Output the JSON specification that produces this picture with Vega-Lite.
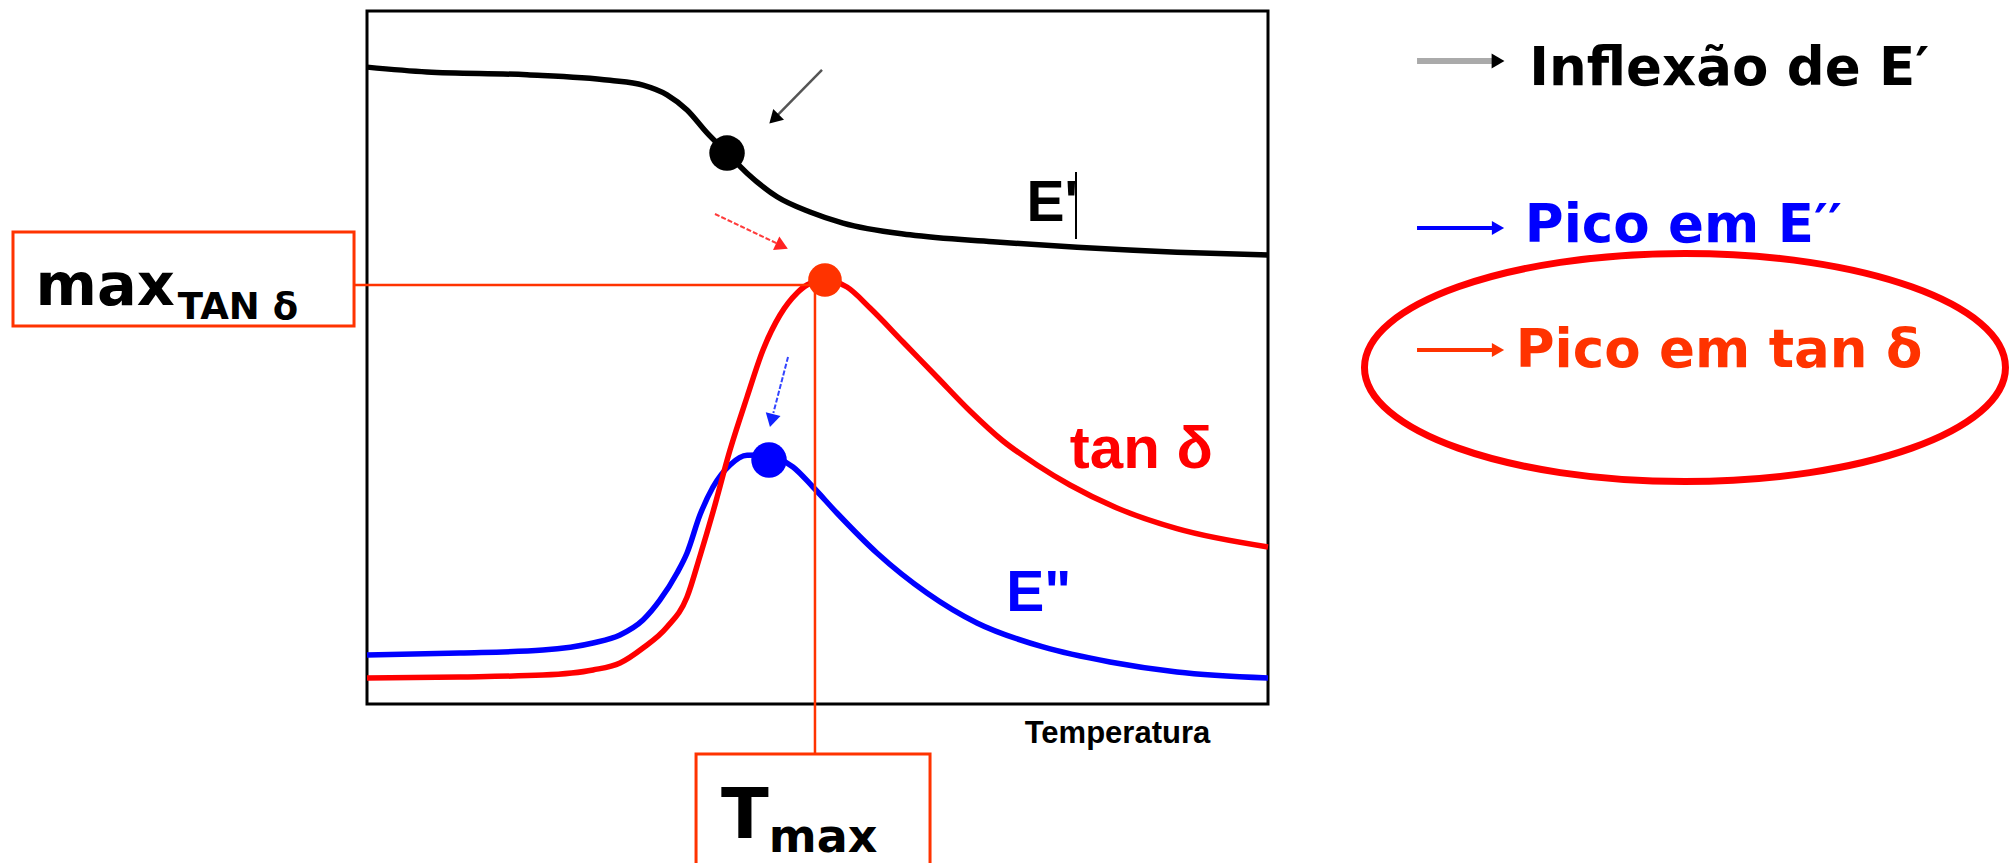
{
  "$schema": "https://vega.github.io/schema/vega-lite/v6.json",
  "width": 901,
  "height": 693,
  "autosize": {"type": "none"},
  "padding": {"left": 367, "top": 11, "right": 742, "bottom": 159},
  "background": "white",
  "config": {"view": {"stroke": "#000000", "strokeWidth": 3}},
  "datasets": {
    "curvas": [
      {"serie": "E'", "temperatura": 0, "valor": 91.9},
      {"serie": "E'", "temperatura": 6.66, "valor": 91.2},
      {"serie": "E'", "temperatura": 17.76, "valor": 90.8},
      {"serie": "E'", "temperatura": 26.97, "valor": 90.0},
      {"serie": "E'", "temperatura": 30.63, "valor": 89.3},
      {"serie": "E'", "temperatura": 33.3, "valor": 87.9},
      {"serie": "E'", "temperatura": 35.52, "valor": 85.7},
      {"serie": "E'", "temperatura": 37.74, "valor": 82.4},
      {"serie": "E'", "temperatura": 39.96, "valor": 79.5},
      {"serie": "E'", "temperatura": 42.18, "valor": 76.6},
      {"serie": "E'", "temperatura": 45.51, "valor": 73.2},
      {"serie": "E'", "temperatura": 49.17, "valor": 71.0},
      {"serie": "E'", "temperatura": 52.83, "valor": 69.4},
      {"serie": "E'", "temperatura": 60.27, "valor": 67.7},
      {"serie": "E'", "temperatura": 69.48, "valor": 66.7},
      {"serie": "E'", "temperatura": 78.8, "valor": 65.9},
      {"serie": "E'", "temperatura": 89.9, "valor": 65.2},
      {"serie": "E'", "temperatura": 100, "valor": 64.8},
      {"serie": "tan", "temperatura": 0, "valor": 3.75},
      {"serie": "tan", "temperatura": 10.32, "valor": 3.9},
      {"serie": "tan", "temperatura": 19.53, "valor": 4.18},
      {"serie": "tan", "temperatura": 25.08, "valor": 4.91},
      {"serie": "tan", "temperatura": 28.08, "valor": 5.92},
      {"serie": "tan", "temperatura": 30.63, "valor": 8.08},
      {"serie": "tan", "temperatura": 33.3, "valor": 11.11},
      {"serie": "tan", "temperatura": 35.52, "valor": 15.44},
      {"serie": "tan", "temperatura": 36.96, "valor": 21.36},
      {"serie": "tan", "temperatura": 38.4, "valor": 27.71},
      {"serie": "tan", "temperatura": 40.29, "valor": 36.65},
      {"serie": "tan", "temperatura": 42.18, "valor": 44.3},
      {"serie": "tan", "temperatura": 43.95, "valor": 51.08},
      {"serie": "tan", "temperatura": 45.84, "valor": 56.13},
      {"serie": "tan", "temperatura": 47.73, "valor": 59.31},
      {"serie": "tan", "temperatura": 48.83, "valor": 60.46},
      {"serie": "tan", "temperatura": 50.83, "valor": 61.18},
      {"serie": "tan", "temperatura": 53.27, "valor": 60.17},
      {"serie": "tan", "temperatura": 55.83, "valor": 57.14},
      {"serie": "tan", "temperatura": 59.49, "valor": 52.24},
      {"serie": "tan", "temperatura": 63.26, "valor": 47.19},
      {"serie": "tan", "temperatura": 66.93, "valor": 42.28},
      {"serie": "tan", "temperatura": 70.59, "valor": 37.95},
      {"serie": "tan", "temperatura": 74.36, "valor": 34.49},
      {"serie": "tan", "temperatura": 78.02, "valor": 31.6},
      {"serie": "tan", "temperatura": 83.24, "valor": 28.28},
      {"serie": "tan", "temperatura": 89.9, "valor": 25.3},
      {"serie": "tan", "temperatura": 100, "valor": 22.66},
      {"serie": "E''", "temperatura": 0, "valor": 7.07},
      {"serie": "E''", "temperatura": 10.32, "valor": 7.36},
      {"serie": "E''", "temperatura": 19.53, "valor": 7.79},
      {"serie": "E''", "temperatura": 25.08, "valor": 8.8},
      {"serie": "E''", "temperatura": 28.08, "valor": 9.96},
      {"serie": "E''", "temperatura": 30.63, "valor": 12.12},
      {"serie": "E''", "temperatura": 32.52, "valor": 15.01},
      {"serie": "E''", "temperatura": 34.41, "valor": 18.9},
      {"serie": "E''", "temperatura": 35.52, "valor": 21.79},
      {"serie": "E''", "temperatura": 36.96, "valor": 27.3},
      {"serie": "E''", "temperatura": 38.4, "valor": 31.31},
      {"serie": "E''", "temperatura": 40.29, "valor": 34.5},
      {"serie": "E''", "temperatura": 42.18, "valor": 35.9},
      {"serie": "E''", "temperatura": 43.84, "valor": 35.93},
      {"serie": "E''", "temperatura": 47.28, "valor": 34.2},
      {"serie": "E''", "temperatura": 49.5, "valor": 31.31},
      {"serie": "E''", "temperatura": 52.16, "valor": 27.56},
      {"serie": "E''", "temperatura": 56.6, "valor": 21.79},
      {"serie": "E''", "temperatura": 62.15, "valor": 16.02},
      {"serie": "E''", "temperatura": 67.7, "valor": 11.69},
      {"serie": "E''", "temperatura": 75.03, "valor": 8.23},
      {"serie": "E''", "temperatura": 82.46, "valor": 6.06},
      {"serie": "E''", "temperatura": 89.9, "valor": 4.62},
      {"serie": "E''", "temperatura": 100, "valor": 3.75}
    ],
    "pontos": [
      {"id": "inflexao", "x": 39.96, "y": 79.5},
      {"id": "picoTan", "x": 50.83, "y": 61.18},
      {"id": "picoE2", "x": 44.62, "y": 35.21}
    ],
    "linhas": [
      {"id": "hMax", "x": -1.44, "y": 60.46, "x2": 49.72, "y2": 60.46},
      {"id": "vTmax", "x": 49.72, "y": 61.18, "x2": 49.72, "y2": -7.22},
      {"id": "cursor", "x": 78.69, "y": 76.77, "x2": 78.69, "y2": 67.1},
      {"id": "setaPreta", "x": 50.5, "y": 91.49, "x2": 45.6, "y2": 85.0},
      {"id": "setaVermelha", "x": 38.62, "y": 70.71, "x2": 45.6, "y2": 66.4},
      {"id": "setaAzul", "x": 46.73, "y": 50.07, "x2": 45.1, "y2": 42.0},
      {"id": "legPreta", "x": 116.54, "y": 92.78, "x2": 124.86, "y2": 92.78},
      {"id": "legAzul", "x": 116.54, "y": 68.69, "x2": 124.86, "y2": 68.69},
      {"id": "legVermelha", "x": 116.54, "y": 51.08, "x2": 124.86, "y2": 51.08}
    ],
    "pontas": [
      {"id": "setaPreta", "x": 45.17, "y": 84.42},
      {"id": "setaVermelha", "x": 46.06, "y": 66.09},
      {"id": "setaAzul", "x": 44.9, "y": 40.9},
      {"id": "legPreta", "x": 125.53, "y": 92.78},
      {"id": "legAzul", "x": 125.53, "y": 68.69},
      {"id": "legVermelha", "x": 125.53, "y": 51.08}
    ],
    "caixas": [
      {"id": "caixaMax", "x": -39.29, "y": 68.11, "x2": -1.44, "y2": 54.55},
      {"id": "caixaTmax", "x": 36.52, "y": -7.22, "x2": 62.49, "y2": -25.0}
    ],
    "elipse": [
      {"id": "destaque", "x": 146.28, "y": 48.56}
    ],
    "textos": [
      {"id": "max", "texto": "max", "x": -36.8, "y": 57.58},
      {"id": "subTan", "texto": "TAN δ", "x": -21.0, "y": 55.56},
      {"id": "T", "texto": "T", "x": 39.3, "y": -19.34},
      {"id": "subMax", "texto": "max", "x": 44.6, "y": -21.36},
      {"id": "rotE1", "texto": "E'", "x": 73.2, "y": 69.7},
      {"id": "rotTan", "texto": "tan δ", "x": 78.0, "y": 34.05},
      {"id": "rotE2", "texto": "E\"", "x": 70.95, "y": 13.42},
      {"id": "eixo", "texto": "Temperatura", "x": 73.0, "y": -5.63},
      {"id": "leg1", "texto": "Inflexão de E′", "x": 129.0, "y": 89.32},
      {"id": "leg2", "texto": "Pico em E′′", "x": 128.5, "y": 66.67},
      {"id": "leg3", "texto": "Pico em tan δ", "x": 127.5, "y": 48.63}
    ]
  },
  "layer": [
    {
      "data": {"name": "caixas"},
      "mark": {"type": "rect", "fill": null, "fillOpacity": 0, "stroke": "#FF3300", "strokeWidth": 3, "clip": false},
      "encoding": {
        "x": {"field": "x", "type": "quantitative", "scale": {"domain": [0, 100]}, "axis": null},
        "x2": {"field": "x2"},
        "y": {"field": "y", "type": "quantitative", "scale": {"domain": [0, 100]}, "axis": null},
        "y2": {"field": "y2"}
      }
    },
    {
      "data": {"name": "curvas"},
      "transform": [{"filter": "datum.serie === \"E'\""}],
      "mark": {"type": "line", "color": "#000000", "strokeWidth": 5.5, "interpolate": "monotone", "clip": false},
      "encoding": {
        "x": {"field": "temperatura", "type": "quantitative", "scale": {"domain": [0, 100]}, "axis": null},
        "y": {"field": "valor", "type": "quantitative", "scale": {"domain": [0, 100]}, "axis": null}
      }
    },
    {
      "data": {"name": "curvas"},
      "transform": [{"filter": "datum.serie === \"E''\""}],
      "mark": {"type": "line", "color": "#0000FF", "strokeWidth": 5.5, "interpolate": "monotone", "clip": false},
      "encoding": {
        "x": {"field": "temperatura", "type": "quantitative", "scale": {"domain": [0, 100]}, "axis": null},
        "y": {"field": "valor", "type": "quantitative", "scale": {"domain": [0, 100]}, "axis": null}
      }
    },
    {
      "data": {"name": "curvas"},
      "transform": [{"filter": "datum.serie === 'tan'"}],
      "mark": {"type": "line", "color": "#FF0000", "strokeWidth": 5.5, "interpolate": "monotone", "clip": false},
      "encoding": {
        "x": {"field": "temperatura", "type": "quantitative", "scale": {"domain": [0, 100]}, "axis": null},
        "y": {"field": "valor", "type": "quantitative", "scale": {"domain": [0, 100]}, "axis": null}
      }
    },
    {
      "data": {"name": "linhas"},
      "transform": [{"filter": "datum.id === 'hMax' || datum.id === 'vTmax'"}],
      "mark": {"type": "rule", "color": "#FF3300", "strokeWidth": 2.5, "clip": false},
      "encoding": {
        "x": {"field": "x", "type": "quantitative", "scale": {"domain": [0, 100]}, "axis": null},
        "x2": {"field": "x2"},
        "y": {"field": "y", "type": "quantitative", "scale": {"domain": [0, 100]}, "axis": null},
        "y2": {"field": "y2"}
      }
    },
    {
      "data": {"name": "linhas"},
      "transform": [{"filter": "datum.id === 'cursor'"}],
      "mark": {"type": "rule", "color": "#000000", "strokeWidth": 2, "clip": false},
      "encoding": {
        "x": {"field": "x", "type": "quantitative", "scale": {"domain": [0, 100]}, "axis": null},
        "x2": {"field": "x2"},
        "y": {"field": "y", "type": "quantitative", "scale": {"domain": [0, 100]}, "axis": null},
        "y2": {"field": "y2"}
      }
    },
    {
      "data": {"name": "linhas"},
      "transform": [{"filter": "datum.id === 'setaPreta'"}],
      "mark": {"type": "rule", "color": "#555555", "strokeWidth": 2.5, "clip": false},
      "encoding": {
        "x": {"field": "x", "type": "quantitative", "scale": {"domain": [0, 100]}, "axis": null},
        "x2": {"field": "x2"},
        "y": {"field": "y", "type": "quantitative", "scale": {"domain": [0, 100]}, "axis": null},
        "y2": {"field": "y2"}
      }
    },
    {
      "data": {"name": "linhas"},
      "transform": [{"filter": "datum.id === 'setaVermelha'"}],
      "mark": {"type": "rule", "color": "#FF3B3B", "strokeWidth": 2, "strokeDash": [5, 2], "clip": false},
      "encoding": {
        "x": {"field": "x", "type": "quantitative", "scale": {"domain": [0, 100]}, "axis": null},
        "x2": {"field": "x2"},
        "y": {"field": "y", "type": "quantitative", "scale": {"domain": [0, 100]}, "axis": null},
        "y2": {"field": "y2"}
      }
    },
    {
      "data": {"name": "linhas"},
      "transform": [{"filter": "datum.id === 'setaAzul'"}],
      "mark": {"type": "rule", "color": "#3344FF", "strokeWidth": 2, "strokeDash": [5, 2], "clip": false},
      "encoding": {
        "x": {"field": "x", "type": "quantitative", "scale": {"domain": [0, 100]}, "axis": null},
        "x2": {"field": "x2"},
        "y": {"field": "y", "type": "quantitative", "scale": {"domain": [0, 100]}, "axis": null},
        "y2": {"field": "y2"}
      }
    },
    {
      "data": {"name": "linhas"},
      "transform": [{"filter": "datum.id === 'legPreta'"}],
      "mark": {"type": "rule", "color": "#AAAAAA", "strokeWidth": 6, "clip": false},
      "encoding": {
        "x": {"field": "x", "type": "quantitative", "scale": {"domain": [0, 100]}, "axis": null},
        "x2": {"field": "x2"},
        "y": {"field": "y", "type": "quantitative", "scale": {"domain": [0, 100]}, "axis": null},
        "y2": {"field": "y2"}
      }
    },
    {
      "data": {"name": "linhas"},
      "transform": [{"filter": "datum.id === 'legAzul'"}],
      "mark": {"type": "rule", "color": "#0000FF", "strokeWidth": 4, "clip": false},
      "encoding": {
        "x": {"field": "x", "type": "quantitative", "scale": {"domain": [0, 100]}, "axis": null},
        "x2": {"field": "x2"},
        "y": {"field": "y", "type": "quantitative", "scale": {"domain": [0, 100]}, "axis": null},
        "y2": {"field": "y2"}
      }
    },
    {
      "data": {"name": "linhas"},
      "transform": [{"filter": "datum.id === 'legVermelha'"}],
      "mark": {"type": "rule", "color": "#FF3300", "strokeWidth": 4, "clip": false},
      "encoding": {
        "x": {"field": "x", "type": "quantitative", "scale": {"domain": [0, 100]}, "axis": null},
        "x2": {"field": "x2"},
        "y": {"field": "y", "type": "quantitative", "scale": {"domain": [0, 100]}, "axis": null},
        "y2": {"field": "y2"}
      }
    },
    {
      "data": {"name": "pontas"},
      "transform": [{"filter": "datum.id === 'setaPreta'"}],
      "mark": {"type": "point", "shape": "triangle-up", "angle": 225, "size": 230, "filled": true, "color": "#000000", "opacity": 1, "clip": false},
      "encoding": {
        "x": {"field": "x", "type": "quantitative", "scale": {"domain": [0, 100]}, "axis": null},
        "y": {"field": "y", "type": "quantitative", "scale": {"domain": [0, 100]}, "axis": null}
      }
    },
    {
      "data": {"name": "pontas"},
      "transform": [{"filter": "datum.id === 'setaVermelha'"}],
      "mark": {"type": "point", "shape": "triangle-up", "angle": 115, "size": 220, "filled": true, "color": "#FF2222", "opacity": 1, "clip": false},
      "encoding": {
        "x": {"field": "x", "type": "quantitative", "scale": {"domain": [0, 100]}, "axis": null},
        "y": {"field": "y", "type": "quantitative", "scale": {"domain": [0, 100]}, "axis": null}
      }
    },
    {
      "data": {"name": "pontas"},
      "transform": [{"filter": "datum.id === 'setaAzul'"}],
      "mark": {"type": "point", "shape": "triangle-up", "angle": 194, "size": 230, "filled": true, "color": "#1122FF", "opacity": 1, "clip": false},
      "encoding": {
        "x": {"field": "x", "type": "quantitative", "scale": {"domain": [0, 100]}, "axis": null},
        "y": {"field": "y", "type": "quantitative", "scale": {"domain": [0, 100]}, "axis": null}
      }
    },
    {
      "data": {"name": "pontas"},
      "transform": [{"filter": "datum.id === 'legPreta'"}],
      "mark": {"type": "point", "shape": "triangle-right", "size": 220, "filled": true, "color": "#000000", "opacity": 1, "clip": false},
      "encoding": {
        "x": {"field": "x", "type": "quantitative", "scale": {"domain": [0, 100]}, "axis": null},
        "y": {"field": "y", "type": "quantitative", "scale": {"domain": [0, 100]}, "axis": null}
      }
    },
    {
      "data": {"name": "pontas"},
      "transform": [{"filter": "datum.id === 'legAzul'"}],
      "mark": {"type": "point", "shape": "triangle-right", "size": 200, "filled": true, "color": "#0000FF", "opacity": 1, "clip": false},
      "encoding": {
        "x": {"field": "x", "type": "quantitative", "scale": {"domain": [0, 100]}, "axis": null},
        "y": {"field": "y", "type": "quantitative", "scale": {"domain": [0, 100]}, "axis": null}
      }
    },
    {
      "data": {"name": "pontas"},
      "transform": [{"filter": "datum.id === 'legVermelha'"}],
      "mark": {"type": "point", "shape": "triangle-right", "size": 200, "filled": true, "color": "#FF3300", "opacity": 1, "clip": false},
      "encoding": {
        "x": {"field": "x", "type": "quantitative", "scale": {"domain": [0, 100]}, "axis": null},
        "y": {"field": "y", "type": "quantitative", "scale": {"domain": [0, 100]}, "axis": null}
      }
    },
    {
      "data": {"name": "pontos"},
      "transform": [{"filter": "datum.id === 'inflexao'"}],
      "mark": {"type": "point", "shape": "circle", "size": 1260, "filled": true, "color": "#000000", "opacity": 1, "clip": false},
      "encoding": {
        "x": {"field": "x", "type": "quantitative", "scale": {"domain": [0, 100]}, "axis": null},
        "y": {"field": "y", "type": "quantitative", "scale": {"domain": [0, 100]}, "axis": null}
      }
    },
    {
      "data": {"name": "pontos"},
      "transform": [{"filter": "datum.id === 'picoTan'"}],
      "mark": {"type": "point", "shape": "circle", "size": 1130, "filled": true, "color": "#FF3300", "opacity": 1, "clip": false},
      "encoding": {
        "x": {"field": "x", "type": "quantitative", "scale": {"domain": [0, 100]}, "axis": null},
        "y": {"field": "y", "type": "quantitative", "scale": {"domain": [0, 100]}, "axis": null}
      }
    },
    {
      "data": {"name": "pontos"},
      "transform": [{"filter": "datum.id === 'picoE2'"}],
      "mark": {"type": "point", "shape": "circle", "size": 1260, "filled": true, "color": "#0000FF", "opacity": 1, "clip": false},
      "encoding": {
        "x": {"field": "x", "type": "quantitative", "scale": {"domain": [0, 100]}, "axis": null},
        "y": {"field": "y", "type": "quantitative", "scale": {"domain": [0, 100]}, "axis": null}
      }
    },
    {
      "data": {"name": "elipse"},
      "mark": {"type": "point", "shape": "M -1 0 C -1 -0.1966 -0.5523 -0.356 0 -0.356 C 0.5523 -0.356 1 -0.1966 1 0 C 1 0.1966 0.5523 0.356 0 0.356 C -0.5523 0.356 -1 0.1966 -1 0 Z", "size": 410881, "filled": false, "stroke": "#FF0000", "strokeWidth": 7, "opacity": 1, "clip": false},
      "encoding": {
        "x": {"field": "x", "type": "quantitative", "scale": {"domain": [0, 100]}, "axis": null},
        "y": {"field": "y", "type": "quantitative", "scale": {"domain": [0, 100]}, "axis": null}
      }
    },
    {
      "data": {"name": "textos"},
      "transform": [{"filter": "datum.id === 'max'"}],
      "mark": {"type": "text", "align": "left", "baseline": "alphabetic", "font": "DejaVu Sans", "fontWeight": "bold", "fontSize": 59, "color": "#000000", "clip": false},
      "encoding": {
        "x": {"field": "x", "type": "quantitative", "scale": {"domain": [0, 100]}, "axis": null},
        "y": {"field": "y", "type": "quantitative", "scale": {"domain": [0, 100]}, "axis": null},
        "text": {"field": "texto"}
      }
    },
    {
      "data": {"name": "textos"},
      "transform": [{"filter": "datum.id === 'subTan'"}],
      "mark": {"type": "text", "align": "left", "baseline": "alphabetic", "font": "DejaVu Sans", "fontWeight": "bold", "fontSize": 37, "color": "#000000", "clip": false},
      "encoding": {
        "x": {"field": "x", "type": "quantitative", "scale": {"domain": [0, 100]}, "axis": null},
        "y": {"field": "y", "type": "quantitative", "scale": {"domain": [0, 100]}, "axis": null},
        "text": {"field": "texto"}
      }
    },
    {
      "data": {"name": "textos"},
      "transform": [{"filter": "datum.id === 'T'"}],
      "mark": {"type": "text", "align": "left", "baseline": "alphabetic", "font": "DejaVu Sans", "fontWeight": "bold", "fontSize": 70, "color": "#000000", "clip": false},
      "encoding": {
        "x": {"field": "x", "type": "quantitative", "scale": {"domain": [0, 100]}, "axis": null},
        "y": {"field": "y", "type": "quantitative", "scale": {"domain": [0, 100]}, "axis": null},
        "text": {"field": "texto"}
      }
    },
    {
      "data": {"name": "textos"},
      "transform": [{"filter": "datum.id === 'subMax'"}],
      "mark": {"type": "text", "align": "left", "baseline": "alphabetic", "font": "DejaVu Sans", "fontWeight": "bold", "fontSize": 46, "color": "#000000", "clip": false},
      "encoding": {
        "x": {"field": "x", "type": "quantitative", "scale": {"domain": [0, 100]}, "axis": null},
        "y": {"field": "y", "type": "quantitative", "scale": {"domain": [0, 100]}, "axis": null},
        "text": {"field": "texto"}
      }
    },
    {
      "data": {"name": "textos"},
      "transform": [{"filter": "datum.id === 'rotE1'"}],
      "mark": {"type": "text", "align": "left", "baseline": "alphabetic", "font": "Liberation Sans Narrow, Liberation Sans", "fontWeight": "bold", "fontSize": 57, "color": "#000000", "clip": false},
      "encoding": {
        "x": {"field": "x", "type": "quantitative", "scale": {"domain": [0, 100]}, "axis": null},
        "y": {"field": "y", "type": "quantitative", "scale": {"domain": [0, 100]}, "axis": null},
        "text": {"field": "texto"}
      }
    },
    {
      "data": {"name": "textos"},
      "transform": [{"filter": "datum.id === 'rotTan'"}],
      "mark": {"type": "text", "align": "left", "baseline": "alphabetic", "font": "Liberation Sans Narrow, Liberation Sans", "fontWeight": "bold", "fontSize": 60, "color": "#FF0000", "clip": false},
      "encoding": {
        "x": {"field": "x", "type": "quantitative", "scale": {"domain": [0, 100]}, "axis": null},
        "y": {"field": "y", "type": "quantitative", "scale": {"domain": [0, 100]}, "axis": null},
        "text": {"field": "texto"}
      }
    },
    {
      "data": {"name": "textos"},
      "transform": [{"filter": "datum.id === 'rotE2'"}],
      "mark": {"type": "text", "align": "left", "baseline": "alphabetic", "font": "Liberation Sans Narrow, Liberation Sans", "fontWeight": "bold", "fontSize": 57, "color": "#0000FF", "clip": false},
      "encoding": {
        "x": {"field": "x", "type": "quantitative", "scale": {"domain": [0, 100]}, "axis": null},
        "y": {"field": "y", "type": "quantitative", "scale": {"domain": [0, 100]}, "axis": null},
        "text": {"field": "texto"}
      }
    },
    {
      "data": {"name": "textos"},
      "transform": [{"filter": "datum.id === 'eixo'"}],
      "mark": {"type": "text", "align": "left", "baseline": "alphabetic", "font": "Liberation Sans", "fontWeight": "bold", "fontSize": 31, "color": "#000000", "clip": false},
      "encoding": {
        "x": {"field": "x", "type": "quantitative", "scale": {"domain": [0, 100]}, "axis": null},
        "y": {"field": "y", "type": "quantitative", "scale": {"domain": [0, 100]}, "axis": null},
        "text": {"field": "texto"}
      }
    },
    {
      "data": {"name": "textos"},
      "transform": [{"filter": "datum.id === 'leg1'"}],
      "mark": {"type": "text", "align": "left", "baseline": "alphabetic", "font": "DejaVu Sans", "fontWeight": "bold", "fontSize": 53, "color": "#000000", "clip": false},
      "encoding": {
        "x": {"field": "x", "type": "quantitative", "scale": {"domain": [0, 100]}, "axis": null},
        "y": {"field": "y", "type": "quantitative", "scale": {"domain": [0, 100]}, "axis": null},
        "text": {"field": "texto"}
      }
    },
    {
      "data": {"name": "textos"},
      "transform": [{"filter": "datum.id === 'leg2'"}],
      "mark": {"type": "text", "align": "left", "baseline": "alphabetic", "font": "DejaVu Sans", "fontWeight": "bold", "fontSize": 53, "color": "#0000FF", "clip": false},
      "encoding": {
        "x": {"field": "x", "type": "quantitative", "scale": {"domain": [0, 100]}, "axis": null},
        "y": {"field": "y", "type": "quantitative", "scale": {"domain": [0, 100]}, "axis": null},
        "text": {"field": "texto"}
      }
    },
    {
      "data": {"name": "textos"},
      "transform": [{"filter": "datum.id === 'leg3'"}],
      "mark": {"type": "text", "align": "left", "baseline": "alphabetic", "font": "DejaVu Sans", "fontWeight": "bold", "fontSize": 53, "color": "#FF3300", "clip": false},
      "encoding": {
        "x": {"field": "x", "type": "quantitative", "scale": {"domain": [0, 100]}, "axis": null},
        "y": {"field": "y", "type": "quantitative", "scale": {"domain": [0, 100]}, "axis": null},
        "text": {"field": "texto"}
      }
    }
  ]
}
